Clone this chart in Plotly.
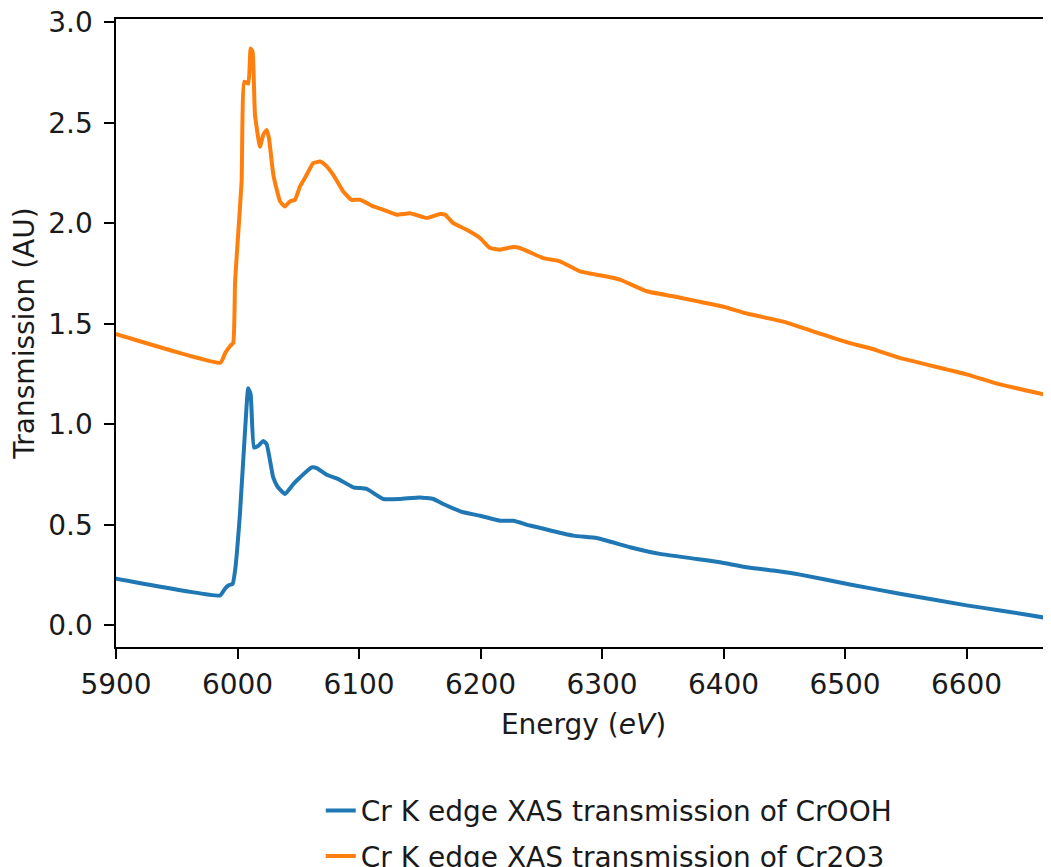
import plotly.graph_objects as go

# Cr2O3 (orange)
energy_cr2o3 = [5880, 5900, 5986, 5990, 5994, 5996.5, 5998, 6000.7, 6003.4, 6005.6, 6008.9, 6010.8,
                6012.4, 6014.4, 6018.5, 6021.2, 6024, 6025.9, 6029.5, 6035, 6039, 6043.2, 6047.3,
                6051.4, 6056.9, 6062.3, 6067.9, 6072, 6078.8, 6087, 6093.9, 6100.8, 6111.7, 6120,
                6131, 6142, 6155.7, 6166.7, 6170.8, 6177.6, 6188.6, 6199.6, 6207.8, 6216, 6227,
                6232.5, 6251.7, 6265.4, 6281.9, 6306.6, 6314.8, 6336.8, 6358.7, 6377.9, 6400,
                6420, 6450, 6480, 6504, 6520, 6545, 6600, 6627.6, 6669.5, 6700]
trans_cr2o3 = [1.48, 1.449, 1.307, 1.356, 1.39, 1.406, 1.71, 1.96, 2.21, 2.704, 2.695, 2.869,
               2.853, 2.539, 2.381, 2.44, 2.464, 2.423, 2.241, 2.109, 2.084, 2.109, 2.117,
               2.183, 2.241, 2.299, 2.307, 2.291, 2.241, 2.158, 2.117, 2.117, 2.084, 2.067,
               2.043, 2.05, 2.026, 2.046, 2.043, 2.001, 1.968, 1.927, 1.877, 1.869, 1.882,
               1.877, 1.827, 1.811, 1.761, 1.732, 1.72, 1.662, 1.637, 1.613, 1.585,
               1.55, 1.51, 1.45, 1.404, 1.38, 1.331, 1.249, 1.199, 1.141, 1.10]

# CrOOH (blue)
energy_crooh = [5880, 5900, 5985.6, 5989.7, 5992.4, 5996, 5998, 6002, 6006.2, 6008.8, 6010.8,
                6013.6, 6017.1, 6021.2, 6024, 6029.4, 6033, 6039.1, 6045.9, 6051.4, 6061, 6065.2,
                6073.3, 6083, 6095.3, 6106.3, 6120, 6133.7, 6150.2, 6161.1, 6169.3, 6185.8,
                6199.6, 6216, 6227, 6240.7, 6276.3, 6295.6, 6323, 6347.7, 6377.9, 6397, 6419,
                6441, 6463, 6504, 6545, 6600, 6627.6, 6669.5, 6700]
trans_crooh = [0.25, 0.232, 0.149, 0.183, 0.199, 0.207, 0.273, 0.555, 0.968, 1.18, 1.15,
               0.885, 0.893, 0.918, 0.902, 0.736, 0.69, 0.654, 0.703, 0.736, 0.786, 0.783,
               0.75, 0.728, 0.687, 0.679, 0.629, 0.629, 0.637, 0.629, 0.604, 0.563,
               0.546, 0.521, 0.521, 0.497, 0.447, 0.435, 0.389, 0.356, 0.331, 0.314, 0.29,
               0.273, 0.253, 0.204, 0.158, 0.10, 0.075, 0.034, 0.01]

x_ticks = [5900, 6000, 6100, 6200, 6300, 6400, 6500, 6600]
y_ticks = [0.0, 0.5, 1.0, 1.5, 2.0, 2.5, 3.0]

FONT = "DejaVu Sans"
TXT = "#1a1a1a"
fig = go.Figure()
fig.add_trace(go.Scatter(x=energy_crooh, y=trans_crooh, mode="lines", legendgroup="a",
                         line=dict(color="#1f77b4", width=4, shape="spline", smoothing=0.4),
                         name="Cr K edge XAS transmission of CrOOH"))
fig.add_trace(go.Scatter(x=energy_cr2o3, y=trans_cr2o3, mode="lines", legendgroup="b",
                         line=dict(color="#ff7f0e", width=4, shape="spline", smoothing=0.4),
                         name="Cr K edge XAS transmission of Cr2O3"))

fig.update_layout(
    width=1043, height=859,
    margin=dict(l=108, r=0, t=11, b=220, autoexpand=False),
    paper_bgcolor="white", plot_bgcolor="white",
    font=dict(family=FONT, size=28, color=TXT),
    showlegend=True,
    legend=dict(x=0.219, xanchor="left", y=-0.221, yanchor="top",
                font=dict(family=FONT, size=28, color=TXT),
                bgcolor="rgba(0,0,0,0)", tracegroupgap=6),
    xaxis=dict(range=[5900, 6669.5], tickvals=x_ticks, ticktext=[str(v) for v in x_ticks],
               showgrid=False, zeroline=False, showline=True, linecolor="black", linewidth=2.2,
               mirror=True, ticks="outside", ticklen=9.5, tickwidth=2.2, tickcolor="black",
               ticklabelstandoff=2, automargin=False, ticklabeloverflow="allow",
               title=dict(text="Energy (<i>eV</i>)", standoff=14,
                          font=dict(family=FONT, size=28, color=TXT)),
               tickfont=dict(family=FONT, size=28, color=TXT)),
    yaxis=dict(range=[-0.107, 3.016], tickvals=y_ticks, ticktext=[f"{v:.1f}" for v in y_ticks],
               showgrid=False, zeroline=False, showline=True, linecolor="black", linewidth=2.2,
               mirror=False, ticks="outside", ticklen=9.5, tickwidth=2.2, tickcolor="black",
               ticklabelstandoff=6, automargin=False, ticklabeloverflow="allow",
               title=dict(text="Transmission (AU)", standoff=8,
                          font=dict(family=FONT, size=28, color=TXT)),
               tickfont=dict(family=FONT, size=28, color=TXT)),
)

fig.write_html("out.html")
